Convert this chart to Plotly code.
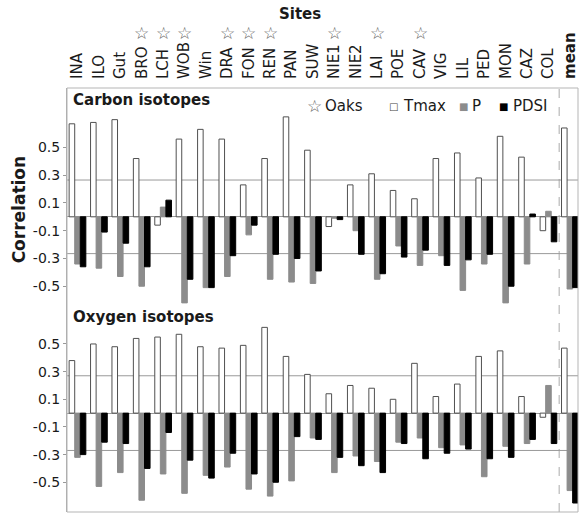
import plotly.graph_objects as go

sites = ["INA", "ILO", "Gut", "BRO", "LCH", "WOB", "Win", "DRA", "FON", "REN", "PAN",
         "SUW", "NIE1", "NIE2", "LAI", "POE", "CAV", "VIG", "LIL", "PED", "MON", "CAZ",
         "COL", "mean"]
tick_labels = sites[:-1] + ["<b>mean</b>"]
oak_sites = ["BRO", "LCH", "WOB", "DRA", "FON", "REN", "NIE1", "LAI", "CAV"]

carbon_tmax = [0.67, 0.68, 0.70, 0.42, -0.06, 0.56, 0.63, 0.56, 0.23, 0.42, 0.72, 0.48,
               -0.07, 0.23, 0.31, 0.19, 0.13, 0.42, 0.46, 0.28, 0.58, 0.43, -0.10, 0.64]
carbon_p = [-0.34, -0.37, -0.43, -0.50, 0.07, -0.62, -0.51, -0.43, -0.13, -0.45, -0.47, -0.48,
            -0.01, -0.10, -0.45, -0.21, -0.35, -0.28, -0.53, -0.34, -0.62, -0.34, 0.04, -0.52]
carbon_pdsi = [-0.36, -0.11, -0.19, -0.36, 0.12, -0.45, -0.51, -0.28, -0.06, -0.27, -0.30, -0.39,
               -0.02, -0.27, -0.41, -0.29, -0.24, -0.35, -0.31, -0.27, -0.50, 0.02, -0.18, -0.51]

oxygen_tmax = [0.38, 0.50, 0.48, 0.54, 0.55, 0.57, 0.48, 0.47, 0.49, 0.62, 0.41, 0.28,
               0.14, 0.20, 0.18, 0.10, 0.36, 0.12, 0.21, 0.41, 0.45, 0.12, -0.03, 0.47]
oxygen_p = [-0.32, -0.53, -0.43, -0.63, -0.44, -0.58, -0.45, -0.39, -0.55, -0.60, -0.49, -0.18,
            -0.43, -0.31, -0.35, -0.21, -0.18, -0.25, -0.23, -0.46, -0.24, -0.22, 0.20, -0.56]
oxygen_pdsi = [-0.30, -0.21, -0.22, -0.40, -0.14, -0.34, -0.47, -0.29, -0.44, -0.50, -0.17, -0.19,
               -0.32, -0.38, -0.43, -0.22, -0.33, -0.29, -0.26, -0.33, -0.32, -0.19, -0.22, -0.65]

carbon_threshold = 0.265
oxygen_threshold = 0.27
y_ticks = [0.5, 0.3, 0.1, -0.1, -0.3, -0.5]

FONT = "DejaVu Sans"
TXT = "#1a1a1a"
W, H = 581, 513
ML, MR, MT, MB = 67, 3, 87.5, 1
PW, PH = W - ML - MR, H - MT - MB
split_px = 305
split = (H - MB - split_px) / PH


def px_x(px):
    return (px - ML) / PW


def px_y(py):
    return (H - MB - py) / PH


fig = go.Figure()
styles = [("Tmax", "white", "#505050"), ("P", "#8c8c8c", "#8c8c8c"), ("PDSI", "#000000", "#000000")]
for (name, fill, line), vals in zip(styles, [carbon_tmax, carbon_p, carbon_pdsi]):
    fig.add_trace(go.Bar(x=sites, y=vals, name=name, marker=dict(color=fill, line=dict(color=line, width=1)),
                         xaxis="x", yaxis="y", showlegend=False))
for (name, fill, line), vals in zip(styles, [oxygen_tmax, oxygen_p, oxygen_pdsi]):
    fig.add_trace(go.Bar(x=sites, y=vals, name=name, marker=dict(color=fill, line=dict(color=line, width=1)),
                         xaxis="x2", yaxis="y2", showlegend=False))

xr = [-0.49, 23.38]
axis_font = dict(family=FONT, size=14, color=TXT)
fig.update_layout(
    width=W, height=H,
    margin=dict(l=ML, r=MR, t=MT, b=MB, pad=0),
    paper_bgcolor="white", plot_bgcolor="white",
    barmode="group", bargap=0.22, bargroupgap=0,
    showlegend=False,
    xaxis=dict(domain=[0, 1], anchor="y", side="top", type="category", range=xr,
               tickvals=sites, ticktext=tick_labels, tickangle=-90,
               tickfont=dict(family=FONT, size=15, color=TXT),
               ticks="outside", ticklen=5, tickcolor="rgba(0,0,0,0)",
               showgrid=False, showline=False, zeroline=False),
    xaxis2=dict(domain=[0, 1], anchor="y2", type="category", range=xr, matches="x",
                showticklabels=False, showgrid=False, showline=False, zeroline=False),
    yaxis=dict(domain=[split, 1], anchor="x", range=[-0.637, 0.928],
               tickvals=y_ticks, ticktext=[f"{v:.1f}" for v in y_ticks], tickfont=axis_font,
               ticks="outside", ticklen=3, tickcolor="#999",
               showgrid=False, showline=True, linecolor="#aaa", linewidth=1,
               zeroline=True, zerolinecolor="#999", zerolinewidth=1),
    yaxis2=dict(domain=[0, split], anchor="x2", range=[-0.715, 0.78],
                tickvals=y_ticks, ticktext=[f"{v:.1f}" for v in y_ticks], tickfont=axis_font,
                ticks="outside", ticklen=3, tickcolor="#999",
                showgrid=False, showline=True, linecolor="#aaa", linewidth=1,
                zeroline=True, zerolinecolor="#999", zerolinewidth=1),
)

shapes = []
for sgn in (1, -1):
    shapes.append(dict(type="line", xref="x", yref="y", x0=xr[0], x1=xr[1],
                       y0=sgn * carbon_threshold, y1=sgn * carbon_threshold,
                       line=dict(color="#999", width=1), layer="below"))
    shapes.append(dict(type="line", xref="x2", yref="y2", x0=xr[0], x1=xr[1],
                       y0=sgn * oxygen_threshold, y1=sgn * oxygen_threshold,
                       line=dict(color="#999", width=1), layer="below"))
shapes.append(dict(type="rect", xref="paper", yref="paper", x0=0, x1=1, y0=0, y1=1,
                   line=dict(color="#b5b5b5", width=1), layer="above"))
shapes.append(dict(type="line", xref="x", yref="paper", x0=22.5, x1=22.5, y0=0, y1=1,
                   line=dict(color="#aaa", width=1, dash="dash"), layer="below"))
fig.update_layout(shapes=shapes)

ann = []
for s in oak_sites:
    ann.append(dict(text="☆", x=s, xref="x", y=px_y(32), yref="paper", showarrow=False,
                    font=dict(family=FONT, size=17, color="#666"), xanchor="center", yanchor="middle"))
ann.append(dict(text="<b>Sites</b>", x=px_x(300), xref="paper", y=px_y(13), yref="paper",
                showarrow=False, font=dict(family=FONT, size=15, color=TXT),
                xanchor="center", yanchor="middle"))
ann.append(dict(text="<b>Correlation</b>", x=px_x(19), xref="paper", y=px_y(209), yref="paper",
                showarrow=False, textangle=-90, font=dict(family=FONT, size=17, color=TXT),
                xanchor="center", yanchor="middle"))
ann.append(dict(text="<b>Carbon isotopes</b>", x=px_x(71), xref="paper", y=px_y(100), yref="paper",
                showarrow=False, font=dict(family=FONT, size=15, color=TXT),
                xanchor="left", yanchor="middle"))
ann.append(dict(text="<b>Oxygen isotopes</b>", x=px_x(71), xref="paper", y=px_y(317), yref="paper",
                showarrow=False, font=dict(family=FONT, size=15, color=TXT),
                xanchor="left", yanchor="middle"))
legend_items = [
    ("☆", 314, 17, "#666", "center"), ("Oaks", 323, 15, TXT, "left"),
    ("□", 393, 10, "#444", "center"), ("Tmax", 401, 15, TXT, "left"),
    ("■", 463, 10, "#8c8c8c", "center"), ("P", 470, 15, TXT, "left"),
    ("■", 503, 10, "#000", "center"), ("PDSI", 511, 15, TXT, "left"),
]
for t, xp, sz, col, anc in legend_items:
    ann.append(dict(text=t, x=px_x(xp), xref="paper", y=px_y(106), yref="paper", showarrow=False,
                    font=dict(family=FONT, size=sz, color=col), xanchor=anc, yanchor="middle"))
fig.update_layout(annotations=ann)

fig.write_html("out.html")
